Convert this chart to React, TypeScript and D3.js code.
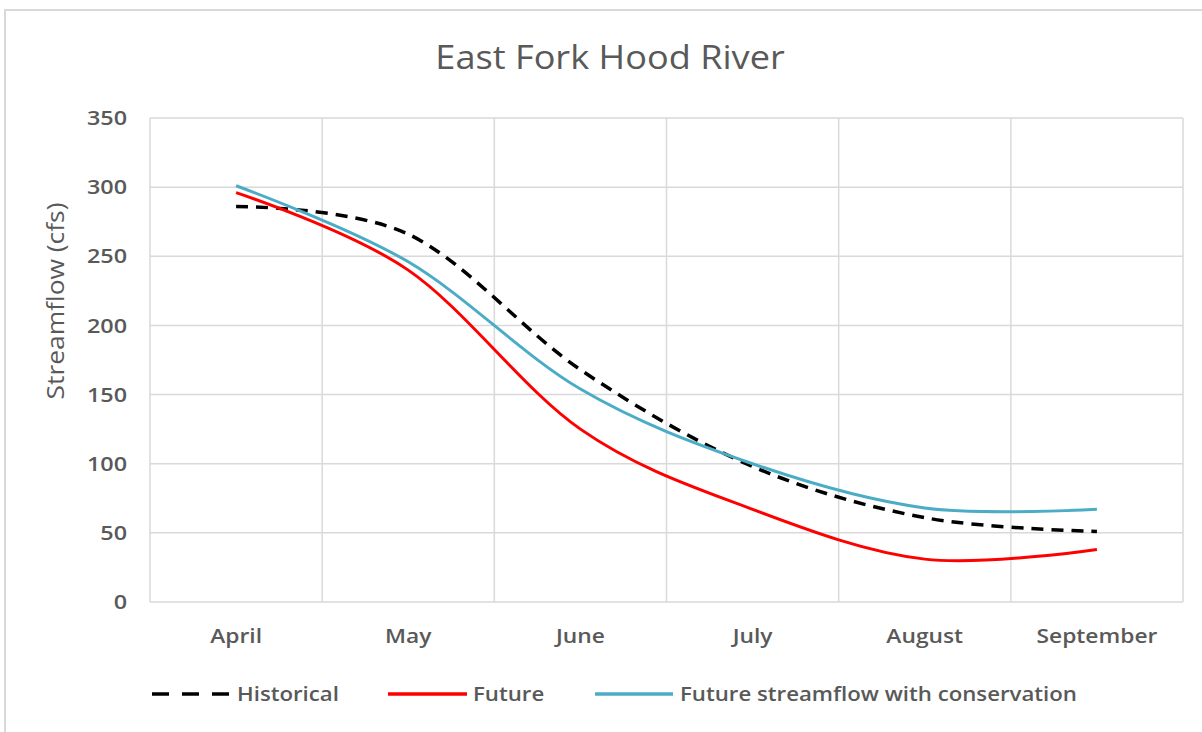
import React from "react";
import * as d3 from "d3";

const categories = ["April", "May", "June", "July", "August", "September"];
const historical = [286, 266, 168, 98, 61, 51];
const future = [296, 240, 125, 67, 31, 38];
const conservation = [301, 246, 154, 100, 68, 67];
const yTicks = [0, 50, 100, 150, 200, 250, 300, 350];

const seriesNames = ["Historical", "Future", "Future streamflow with conservation"];

const W = 1202;
const H = 732;
const plot = { left: 150, right: 1183, top: 118, bottom: 602 };
const FONT = "'Open Sans', 'Noto Sans', sans-serif";
const TEXT = "#595959";
const GRID = "#d9d9d9";

export default function App() {
  const x = d3.scaleBand<string>().domain(categories).range([plot.left, plot.right]);
  const y = d3.scaleLinear().domain([0, 350]).range([plot.bottom, plot.top]);
  const cx = (c: string) => (x(c) as number) + x.bandwidth() / 2;

  const line = d3
    .line<number>()
    .x((_, i) => cx(categories[i]))
    .y((d) => y(d))
    .curve(d3.curveCardinal.tension(0));

  const series = [
    { name: seriesNames[0], data: historical, color: "#000000", dash: "12 8" },
    { name: seriesNames[1], data: future, color: "#ff0000", dash: undefined },
    { name: seriesNames[2], data: conservation, color: "#4bacc6", dash: undefined },
  ];

  const boundaries = [...categories.map((c) => x(c) as number), plot.right];

  const legendItems = [
    { l0: 152, l1: 232, tx: 237 },
    { l0: 388, l1: 467, tx: 473 },
    { l0: 595, l1: 673, tx: 680 },
  ];

  return (
    <svg
      width={W}
      height={H}
      style={{ position: "absolute", left: 0, top: 0, background: "#fff" }}
      fontFamily={FONT}
    >
      <rect x={5} y={10} width={1220} height={760} fill="#fff" stroke={GRID} strokeWidth={2} />
      <text
        transform="translate(610,69) scale(1.13,1)"
        textAnchor="middle"
        fontSize={32}
        fill={TEXT}
      >
        East Fork Hood River
      </text>

      {yTicks.map((t) => (
        <line key={"h" + t} x1={plot.left} x2={plot.right} y1={y(t)} y2={y(t)} stroke={GRID} strokeWidth={1.5} />
      ))}
      {boundaries.map((b, i) => (
        <line key={"v" + i} x1={b} x2={b} y1={plot.top} y2={plot.bottom} stroke={GRID} strokeWidth={1.5} />
      ))}

      {yTicks.map((t) => (
        <text
          key={"yl" + t}
          transform={`translate(127,${y(t)}) scale(1.17,1)`}
          dy="0.36em"
          textAnchor="end"
          fontSize={20}
          fontWeight={600}
          fill={TEXT}
        >
          {t}
        </text>
      ))}
      <text
        transform={`translate(64,${301}) rotate(-90) scale(1.1,1)`}
        textAnchor="middle"
        fontSize={24}
        fill={TEXT}
      >
        Streamflow (cfs)
      </text>

      {categories.map((c) => (
        <text
          key={c}
          transform={`translate(${cx(c)},643) scale(1.14,1)`}
          textAnchor="middle"
          fontSize={20}
          fontWeight={600}
          fill={TEXT}
        >
          {c}
        </text>
      ))}

      {series.map((s) => (
        <path
          key={s.name}
          d={line(s.data) || ""}
          fill="none"
          stroke={s.color}
          strokeWidth={s.dash ? 3.5 : 3}
          strokeDasharray={s.dash}
        />
      ))}

      {series.map((s, i) => (
        <g key={"lg" + i}>
          <line
            x1={legendItems[i].l0}
            x2={legendItems[i].l1}
            y1={694}
            y2={694}
            stroke={s.color}
            strokeWidth={3.5}
            strokeDasharray={s.dash ? "17 13" : undefined}
          />
          <text
            transform={`translate(${legendItems[i].tx},701) scale(1.14,1)`}
            fontSize={19.5}
            fontWeight={600}
            fill={TEXT}
          >
            {s.name}
          </text>
        </g>
      ))}
    </svg>
  );
}
